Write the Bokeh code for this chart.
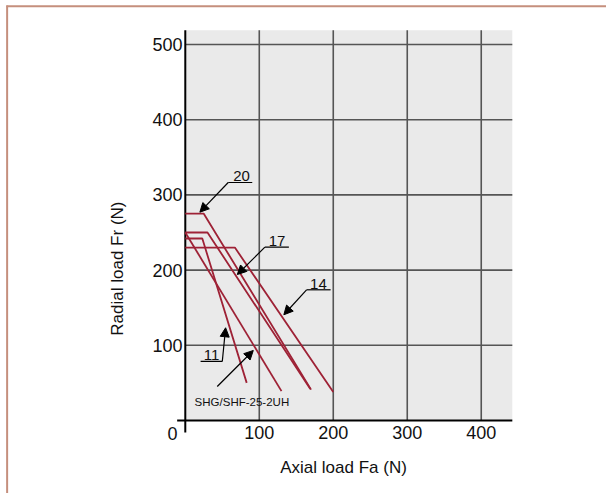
from bokeh.plotting import figure
from bokeh.models import Range1d, FixedTicker, Arrow, NormalHead
from bokeh.core.properties import value
from bokeh.embed import file_html
from bokeh.resources import INLINE
import math

# ---- data ----
x_ticks = [100, 200, 300, 400]
y_ticks = [100, 200, 300, 400, 500]

fa_20 = [0, 25, 170]
fr_20 = [275, 275, 41]
fa_17 = [0, 30, 169]
fr_17 = [250, 250, 42]
fa_14 = [0, 67, 200]
fr_14 = [230, 230, 38]
fa_11 = [0, 23, 83]
fr_11 = [242, 242, 50]
fa_shg = [0, 130]
fr_shg = [250, 39]

series_labels = ["20", "17", "14", "11", "SHG/SHF-25-2UH"]
x_title = "Axial load Fa (N)"
y_title = "Radial load Fr (N)"

FONT = "Liberation Sans"
RED = "#9e2236"
BORDER = "#c58f7d"
XMAX, YMAX = 442, 519

p = figure(width=606, height=493,
           x_range=Range1d(-243, 569.3), y_range=Range1d(-97.1, 553.2),
           output_backend="svg", toolbar_location=None,
           min_border_left=5, min_border_right=0,
           min_border_top=4, min_border_bottom=0,
           background_fill_color="white", border_fill_color="white",
           outline_line_color=None)
p.xgrid.visible = False
p.ygrid.visible = False

for ax in (p.xaxis[0], p.yaxis[0]):
    ax.axis_line_color = None
    ax.major_tick_line_color = None
    ax.minor_tick_line_color = None
    ax.major_tick_out = 0
    ax.major_tick_in = 0
    ax.minor_tick_out = 0
    ax.minor_tick_in = 0
    ax.major_label_text_font = FONT
    ax.major_label_text_font_size = "18px"
    ax.major_label_text_color = "#111111"

p.xaxis.ticker = FixedTicker(ticks=x_ticks)
p.yaxis.ticker = FixedTicker(ticks=y_ticks)
p.xaxis.major_label_standoff = -68
p.yaxis.major_label_standoff = -177

# page frame lines (top and left)
p.segment(x0=[-241.8, -240.8], y0=[550.8, 552], x1=[569.3, -240.8], y1=[550.8, -97.1],
          line_color=BORDER, line_width=2)

# plot area background
p.quad(left=[0], right=[XMAX], bottom=[0], top=[YMAX], fill_color="#eaeaea", line_color=None)
# grid lines
p.segment(x0=x_ticks, y0=[0] * len(x_ticks), x1=x_ticks, y1=[YMAX] * len(x_ticks),
          line_color="#555555", line_width=1.6)
p.segment(x0=[0] * len(y_ticks), y0=y_ticks, x1=[XMAX] * len(y_ticks), y1=y_ticks,
          line_color="#555555", line_width=1.6)
# axis lines (crossing at origin)
p.segment(x0=[-11, 0], y0=[0, -16], x1=[XMAX, 0], y1=[0, YMAX], line_color="black", line_width=2)

# curves
for xs, ys in [(fa_20, fr_20), (fa_17, fr_17), (fa_14, fr_14), (fa_11, fr_11), (fa_shg, fr_shg)]:
    p.line(xs, ys, line_color=RED, line_width=1.8)

# annotations: (label, text_x, underline_x0, underline_x1, underline_y, arrow_start, arrow_tip)
notes = [
    (series_labels[0], 76, 58, 90.5, 316.5, (58, 316.5), (19.7, 277)),
    (series_labels[1], 124, 107.6, 140, 230.5, (107.6, 230.5), (70.3, 194.1)),
    (series_labels[2], 180, 163.9, 196.4, 173.8, (163.9, 173.8), (133.2, 140.6)),
    (series_labels[3], 35.5, 20.7, 50, 78.5, (50, 78.5), (54.5, 123.3)),
]
for txt, tx, ux0, ux1, uy, a0, a1 in notes:
    p.segment(x0=[ux0], y0=[uy], x1=[ux1], y1=[uy], line_color="black", line_width=1.2)
    p.text(x=[tx], y=[uy], text=[txt], text_font=value(FONT), text_font_size="15px",
           text_align="center", text_baseline="bottom", y_offset=-1, text_color="#111111")
    p.add_layout(Arrow(end=NormalHead(size=9, fill_color="black", line_color="black"),
                       x_start=a0[0], y_start=a0[1], x_end=a1[0], y_end=a1[1],
                       line_color="black", line_width=1.2))

p.text(x=[12.6], y=[24.3], text=[series_labels[4]], text_font=value(FONT),
       text_font_size="11.5px", text_align="left", text_baseline="middle", text_color="#111111")
p.add_layout(Arrow(end=NormalHead(size=9, fill_color="black", line_color="black"),
                   x_start=43.2, y_start=45.2, x_end=91.9, y_end=93.1,
                   line_color="black", line_width=1.2))

# origin label and axis titles
p.text(x=[-17.2], y=[-17.3], text=["0"], text_font=value(FONT), text_font_size="18px",
       text_align="center", text_baseline="middle", text_color="#111111")
p.text(x=[213.9], y=[-62.5], text=[x_title], text_font=value(FONT), text_font_size="17px",
       text_align="center", text_baseline="middle", text_color="#111111")
p.text(x=[-91.5], y=[202], text=[y_title], angle=math.pi / 2, text_font=value(FONT),
       text_font_size="17px", text_align="center", text_baseline="middle", text_color="#111111")

open("out.html", "w").write(file_html(p, INLINE))
